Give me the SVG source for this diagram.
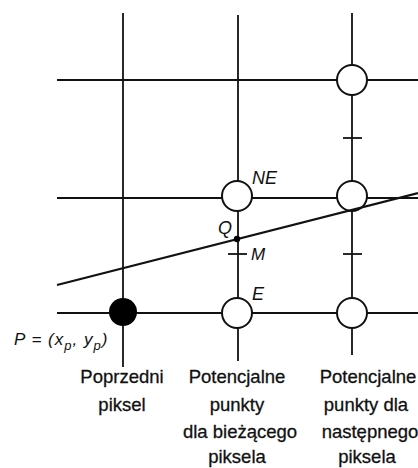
<svg xmlns="http://www.w3.org/2000/svg" width="418" height="468" viewBox="0 0 418 468">
<style>
.g{stroke:#111;stroke-width:1.8;fill:none}
.pt{fill:#fff;stroke:#111;stroke-width:2}
.it{font-family:"Liberation Sans",Arial,sans-serif;font-style:italic;fill:#111}
.cap{font-family:"Liberation Sans",Arial,sans-serif;font-size:18.5px;fill:#111;text-anchor:middle;stroke:#111;stroke-width:0.3}
</style>
<rect width="418" height="468" fill="#fff"/>
<g id="connectors">
<line class="g" x1="123" y1="13" x2="123" y2="367"/>
<line class="g" x1="238" y1="15" x2="238" y2="361"/>
<line class="g" x1="352" y1="13" x2="352" y2="355"/>
<line class="g" x1="57" y1="80" x2="418" y2="80"/>
<line class="g" x1="57" y1="198" x2="418" y2="198"/>
<line class="g" x1="57" y1="313" x2="418" y2="313"/>
<line class="g" x1="228" y1="254" x2="247" y2="254"/>
<line class="g" x1="343" y1="254" x2="362" y2="254"/>
<line class="g" x1="343" y1="138" x2="362" y2="138"/>
</g>
<g id="node-top"><circle class="pt" cx="352" cy="80" r="15"/></g>
<g id="node-NE"><circle class="pt" cx="237" cy="196" r="15"/><text class="it" x="252" y="184" font-size="18">NE</text></g>
<g id="node-next-mid"><circle class="pt" cx="352" cy="196" r="15"/></g>
<g id="node-E"><circle class="pt" cx="237" cy="313" r="15"/><text class="it" x="252" y="300" font-size="18">E</text></g>
<g id="node-next-bottom"><circle class="pt" cx="352" cy="313" r="15"/></g>
<g id="node-P"><circle cx="123" cy="312" r="14" fill="#000"/>
<text class="it" x="14" y="345" font-size="17" letter-spacing="1">P = (x<tspan font-size="13" dy="5">p</tspan><tspan dy="-5">, y</tspan><tspan font-size="13" dy="5">p</tspan><tspan dy="-5">)</tspan></text></g>
<g id="line-path">
<line x1="57" y1="285" x2="418" y2="193" stroke="#111" stroke-width="2.2"/>
</g>
<g id="node-Q"><circle cx="237" cy="239" r="3.2" fill="#000"/><text class="it" x="218" y="234" font-size="18">Q</text></g>
<g id="node-M"><text class="it" x="251" y="260" font-size="17">M</text></g>
<g id="captions">
<text class="cap" x="122" y="383">Poprzedni</text>
<text class="cap" x="122" y="411">piksel</text>
<text class="cap" x="237" y="383">Potencjalne</text>
<text class="cap" x="237" y="411">punkty</text>
<text class="cap" x="240" y="438">dla bieżącego</text>
<text class="cap" x="237" y="463">piksela</text>
<text class="cap" x="368" y="383">Potencjalne</text>
<text class="cap" x="366" y="411">punkty dla</text>
<text class="cap" x="370" y="438">następnego</text>
<text class="cap" x="367" y="463">piksela</text>
</g>
</svg>
